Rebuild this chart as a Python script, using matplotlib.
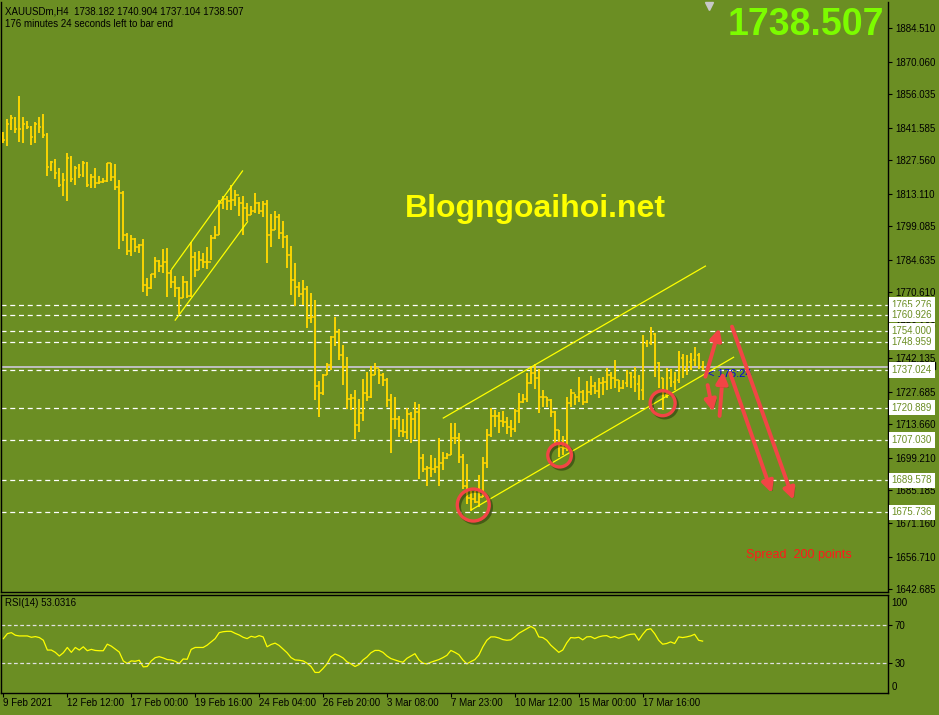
import matplotlib
matplotlib.use("Agg")
import matplotlib.pyplot as plt
import matplotlib.patheffects as pe
from matplotlib.patches import Rectangle
import numpy as np

plt.rcParams["font.family"] = ["Liberation Sans", "DejaVu Sans"]

BG = "#6b8e23"
BAR = "#ffd700"
RED = "#f24545"

# OHLC of XAUUSDm H4
highs = [
    1839.8, 1845.3, 1847.0, 1846.3, 1855.2, 1846.0, 1844.4, 1842.3, 1844.0, 1846.0,
    1847.5, 1839.4, 1827.3, 1827.9, 1824.0, 1821.9, 1830.5, 1829.3, 1825.0, 1825.9,
    1827.2, 1826.8, 1821.6, 1824.0, 1820.7, 1819.7, 1826.5, 1826.5, 1825.9, 1819.0,
    1814.4, 1796.3, 1795.3, 1793.9, 1791.3, 1793.4, 1776.6, 1778.5, 1785.7, 1784.5,
    1789.1, 1789.6, 1780.2, 1777.6, 1773.0, 1777.6, 1775.6, 1792.4, 1788.1, 1788.5,
    1787.4, 1790.0, 1795.3, 1799.2, 1810.4, 1812.1, 1812.1, 1816.8, 1814.7, 1811.5,
    1812.0, 1809.2, 1807.8, 1813.5, 1809.7, 1810.0, 1810.4, 1804.4, 1805.6, 1804.4,
    1801.2, 1795.3, 1790.6, 1783.1, 1775.0, 1775.9, 1773.3, 1770.2, 1767.3, 1732.4,
    1735.4, 1740.0, 1751.8, 1760.1, 1754.6, 1747.9, 1742.9, 1726.8, 1728.5, 1724.5,
    1733.1, 1736.1, 1738.8, 1740.3, 1737.4, 1735.7, 1733.5, 1726.8, 1725.3, 1717.3,
    1715.9, 1720.6, 1719.2, 1723.5, 1722.5, 1700.9, 1695.7, 1700.5, 1699.0, 1707.7,
    1701.9, 1701.5, 1714.1, 1714.1, 1709.8, 1700.9, 1696.6, 1685.1, 1685.1, 1691.9,
    1699.5, 1711.5, 1720.6, 1719.9, 1719.2, 1719.6, 1716.7, 1715.6, 1720.2, 1727.1,
    1726.8, 1735.7, 1738.8, 1739.7, 1737.4, 1728.5, 1725.6, 1724.5, 1719.6, 1711.3,
    1708.7, 1725.3, 1728.8, 1726.8, 1734.0, 1728.5, 1732.5, 1734.5, 1732.1, 1733.5,
    1734.2, 1737.8, 1736.4, 1741.4, 1732.8, 1732.8, 1737.1, 1736.4, 1738.3, 1735.0,
    1752.2, 1750.0, 1755.5, 1753.2, 1740.7, 1733.5, 1737.8, 1737.4, 1736.4, 1745.4,
    1744.0, 1743.6, 1744.3, 1746.9, 1744.6, 1740.9,
]
lows = [
    1834.8, 1833.8, 1840.6, 1839.1, 1835.5, 1834.8, 1840.8, 1833.9, 1835.1, 1839.4,
    1837.3, 1820.7, 1823.0, 1819.3, 1816.1, 1812.1, 1810.1, 1818.3, 1816.8, 1820.0,
    1820.2, 1816.1, 1815.7, 1815.7, 1817.1, 1817.6, 1818.0, 1818.7, 1814.7, 1789.4,
    1792.9, 1786.7, 1786.2, 1788.1, 1787.7, 1770.9, 1769.0, 1771.9, 1776.6, 1779.5,
    1778.8, 1768.4, 1772.3, 1768.7, 1761.2, 1768.0, 1768.0, 1768.4, 1777.3, 1780.2,
    1780.9, 1780.5, 1784.5, 1793.4, 1795.3, 1806.4, 1806.1, 1806.1, 1807.8, 1803.5,
    1795.3, 1801.5, 1803.9, 1804.6, 1804.2, 1802.9, 1783.4, 1790.3, 1797.5, 1793.7,
    1789.8, 1781.2, 1769.4, 1764.7, 1768.7, 1765.1, 1755.1, 1757.5, 1724.2, 1717.0,
    1726.3, 1735.0, 1737.1, 1747.5, 1741.4, 1730.6, 1720.2, 1719.9, 1707.2, 1710.5,
    1715.3, 1723.9, 1724.9, 1735.0, 1731.1, 1730.2, 1721.3, 1701.5, 1711.5, 1708.1,
    1708.4, 1707.2, 1705.8, 1707.2, 1690.0, 1693.3, 1687.1, 1691.1, 1692.9, 1687.1,
    1694.0, 1698.6, 1700.5, 1705.2, 1696.9, 1685.7, 1679.4, 1676.5, 1679.6, 1678.2,
    1682.5, 1694.7, 1708.4, 1712.4, 1709.8, 1712.4, 1709.5, 1708.4, 1710.5, 1714.4,
    1723.0, 1723.5, 1731.1, 1728.8, 1718.7, 1721.3, 1721.0, 1716.7, 1704.8, 1699.5,
    1700.5, 1702.3, 1721.3, 1722.0, 1723.5, 1722.0, 1722.7, 1726.3, 1726.8, 1724.9,
    1726.3, 1728.5, 1728.8, 1729.2, 1727.8, 1729.0, 1729.6, 1729.2, 1727.8, 1724.2,
    1724.2, 1747.0, 1747.9, 1734.2, 1729.2, 1719.9, 1725.0, 1729.6, 1728.5, 1731.4,
    1733.5, 1735.0, 1737.1, 1738.8, 1737.4, 1737.1,
]
closes = [
    1836.2, 1843.1, 1845.6, 1840.8, 1841.1, 1843.1, 1842.0, 1837.4, 1843.1, 1841.7,
    1838.4, 1824.5, 1826.8, 1821.9, 1816.8, 1819.0, 1828.3, 1819.3, 1824.0, 1821.0,
    1826.2, 1816.8, 1820.4, 1817.9, 1818.1, 1818.6, 1826.2, 1820.4, 1816.1, 1813.5,
    1795.2, 1788.4, 1793.4, 1790.0, 1791.0, 1773.7, 1772.3, 1778.4, 1784.2, 1781.9,
    1783.8, 1778.8, 1775.2, 1772.3, 1768.0, 1775.2, 1769.0, 1786.0, 1780.2, 1784.5,
    1783.8, 1783.8, 1793.9, 1795.3, 1809.2, 1810.7, 1810.1, 1810.4, 1812.5, 1808.9,
    1806.8, 1803.9, 1805.8, 1808.9, 1805.8, 1808.7, 1795.3, 1797.5, 1802.9, 1796.3,
    1794.3, 1786.5, 1775.9, 1773.0, 1769.9, 1771.9, 1759.4, 1759.8, 1730.2, 1727.1,
    1735.0, 1739.3, 1751.2, 1753.6, 1743.6, 1738.5, 1724.5, 1724.9, 1713.4, 1718.4,
    1727.1, 1725.3, 1735.0, 1737.8, 1735.0, 1732.8, 1724.2, 1715.9, 1715.9, 1711.0,
    1710.5, 1718.2, 1715.9, 1719.2, 1699.0, 1694.3, 1694.7, 1694.3, 1695.2, 1697.2,
    1699.0, 1700.5, 1707.7, 1707.7, 1699.5, 1687.0, 1681.8, 1681.4, 1680.4, 1682.5,
    1697.2, 1709.1, 1717.3, 1717.3, 1715.3, 1714.8, 1712.4, 1711.5, 1719.6, 1723.5,
    1724.5, 1731.4, 1735.7, 1733.5, 1725.3, 1725.3, 1724.2, 1719.2, 1711.3, 1703.8,
    1703.4, 1723.0, 1727.1, 1725.3, 1727.8, 1723.5, 1727.8, 1730.2, 1728.2, 1731.4,
    1732.1, 1735.0, 1733.5, 1732.8, 1729.2, 1731.4, 1735.7, 1734.2, 1731.1, 1728.5,
    1748.6, 1748.9, 1752.6, 1740.0, 1733.5, 1726.3, 1733.5, 1732.1, 1732.8, 1742.1,
    1737.4, 1740.7, 1741.4, 1743.6, 1740.0, 1738.5,
]
opens = [
    1838.0, 1836.2, 1843.1, 1845.6, 1840.8, 1841.1, 1843.1, 1842.0, 1837.4, 1843.1,
    1841.7, 1838.4, 1824.5, 1826.8, 1821.9, 1816.8, 1819.0, 1828.3, 1819.3, 1824.0,
    1821.0, 1826.2, 1816.8, 1820.4, 1817.9, 1818.1, 1818.6, 1826.2, 1820.4, 1816.1,
    1813.5, 1795.2, 1788.4, 1793.4, 1790.0, 1791.0, 1773.7, 1772.3, 1778.4, 1784.2,
    1781.9, 1783.8, 1778.8, 1775.2, 1772.3, 1768.0, 1775.2, 1769.0, 1786.0, 1780.2,
    1784.5, 1783.8, 1783.8, 1793.9, 1795.3, 1809.2, 1810.7, 1810.1, 1810.4, 1812.5,
    1808.9, 1806.8, 1803.9, 1805.8, 1808.9, 1805.8, 1808.7, 1795.3, 1797.5, 1802.9,
    1796.3, 1794.3, 1786.5, 1775.9, 1773.0, 1769.9, 1771.9, 1759.4, 1759.8, 1730.2,
    1727.1, 1735.0, 1739.3, 1751.2, 1753.6, 1743.6, 1738.5, 1724.5, 1724.9, 1713.4,
    1718.4, 1727.1, 1725.3, 1735.0, 1737.8, 1735.0, 1732.8, 1724.2, 1715.9, 1715.9,
    1711.0, 1710.5, 1718.2, 1715.9, 1719.2, 1699.0, 1694.3, 1694.7, 1694.3, 1695.2,
    1697.2, 1699.0, 1700.5, 1707.7, 1707.7, 1699.5, 1687.0, 1681.8, 1681.4, 1680.4,
    1682.5, 1697.2, 1709.1, 1717.3, 1717.3, 1715.3, 1714.8, 1712.4, 1711.5, 1719.6,
    1723.5, 1724.5, 1731.4, 1735.7, 1733.5, 1725.3, 1725.3, 1724.2, 1719.2, 1711.3,
    1703.8, 1703.4, 1723.0, 1727.1, 1725.3, 1727.8, 1723.5, 1727.8, 1730.2, 1728.2,
    1731.4, 1732.1, 1735.0, 1733.5, 1732.8, 1729.2, 1731.4, 1735.7, 1734.2, 1731.1,
    1728.5, 1748.6, 1748.9, 1752.6, 1740.0, 1733.5, 1726.3, 1733.5, 1732.1, 1732.8,
    1742.1, 1737.4, 1740.7, 1741.4, 1743.6, 1738.2,
]
rsi = [
    55.6, 60.8, 61.8, 59.1, 58.4, 58.4, 58.4, 57.0, 57.7, 56.7,
    53.9, 43.7, 43.7, 41.3, 37.5, 40.9, 46.4, 41.3, 46.4, 43.7,
    47.1, 43.0, 44.4, 43.3, 43.0, 43.0, 49.8, 47.8, 44.7, 41.6,
    32.4, 29.7, 32.4, 32.0, 33.1, 26.2, 26.6, 32.4, 35.8, 36.8,
    35.5, 33.8, 33.4, 32.0, 29.7, 34.4, 34.1, 44.4, 46.4, 46.4,
    46.4, 48.8, 52.2, 55.6, 61.8, 62.8, 63.2, 63.2, 61.1, 59.4,
    57.0, 55.6, 58.0, 57.0, 58.7, 57.4, 47.1, 49.5, 50.9, 48.5,
    44.7, 40.9, 35.8, 33.4, 33.1, 32.4, 30.0, 26.6, 20.4, 20.4,
    24.5, 29.3, 36.8, 39.6, 37.9, 35.5, 31.4, 29.3, 26.6, 28.6,
    33.4, 36.5, 40.9, 43.3, 43.3, 41.3, 37.5, 34.8, 33.4, 32.0,
    31.0, 35.1, 37.5, 39.9, 33.4, 30.0, 29.3, 31.0, 32.4, 33.8,
    35.8, 38.2, 43.3, 41.3, 38.9, 33.4, 29.3, 31.7, 33.8, 38.5,
    47.1, 53.9, 57.4, 57.4, 56.3, 54.6, 53.9, 54.3, 57.4, 61.1,
    63.5, 65.9, 68.3, 65.9, 57.4, 56.7, 53.9, 48.8, 45.0, 41.3,
    43.7, 51.2, 56.7, 56.3, 57.0, 54.3, 57.4, 57.7, 55.6, 57.4,
    58.4, 58.7, 56.7, 57.7, 56.0, 57.4, 59.1, 60.1, 60.4, 53.9,
    60.0, 64.9, 65.9, 60.8, 53.9, 49.8, 50.5, 52.2, 50.5, 57.4,
    56.7, 57.4, 58.4, 60.1, 53.9, 53.0,
]

price_ticks = [1884.510, 1870.060, 1856.035, 1841.585, 1827.560, 1813.110, 1799.085,
               1784.635, 1770.610, 1756.160, 1742.135, 1727.685, 1713.660, 1699.210,
               1685.185, 1671.160, 1656.710, 1642.685]
levels = [1765.276, 1760.926, 1754.000, 1748.959, 1737.024, 1720.889, 1707.030,
          1689.578, 1675.736]
last_price = 1738.507
date_pos = [0, 16, 32, 48, 64, 80, 96, 112, 128, 144, 160]
date_labels = ["9 Feb 2021", "12 Feb 12:00", "17 Feb 00:00", "19 Feb 16:00",
               "24 Feb 04:00", "26 Feb 20:00", "3 Mar 08:00", "7 Mar 23:00",
               "10 Mar 12:00", "15 Mar 00:00", "17 Mar 16:00"]

# trend lines: (bar0, price0, bar1, price1)
trend_lines = [
    (42.1, 1780.5, 59.85, 1822.9),
    (43.0, 1758.6, 61.1, 1801.0),
    (110.1, 1716.4, 175.7, 1781.9),
    (117.1, 1676.8, 182.75, 1742.6),
]
circles = [(117.6, 1678.9, 23), (139.2, 1700.4, 17), (165.0, 1722.8, 18)]
arrows = [  # tail -> head
    (175.7, 1734.2, 179.2, 1755.1),
    (176.25, 1730.6, 177.6, 1719.1),
    (179.25, 1717.3, 180.1, 1736.4),
    (182.35, 1755.8, 197.75, 1681.1),
    (181.9, 1735.7, 192.35, 1684.0),
]

W, H = 939, 715
fig = plt.figure(figsize=(W / 100, H / 100), dpi=100, facecolor=BG)
ax = fig.add_axes([1 / W, (H - 592) / H, 887 / W, 590 / H], facecolor=BG)
ax2 = fig.add_axes([1 / W, (H - 693) / H, 887 / W, 98 / H], facecolor=BG)

x = np.arange(len(closes))
xlim = (-0.6, 221.4)

# price bars
ax.vlines(x, lows, highs, color=BAR, lw=1.35, zorder=3)
ax.hlines(opens, x - 0.45, x, color=BAR, lw=1.1, zorder=3)
ax.hlines(closes, x, x + 0.45, color=BAR, lw=1.1, zorder=3)

for lv in levels:
    ax.axhline(lv, color="white", lw=0.9, ls=(0, (4, 3)), zorder=1)
ax.axhline(last_price, color="#c0c0c0", lw=1.4, zorder=1)

for x0, y0, x1, y1 in trend_lines:
    ax.plot([x0, x1], [y0, y1], color="#ffff00", lw=0.9, zorder=4)

shadow = [pe.SimpleLineShadow(offset=(1.5, -1.5), shadow_color="k", alpha=0.35), pe.Normal()]
for cx, cy, ms in circles:
    ax.plot([cx], [cy], marker="o", ms=ms, mfc="none", mec=RED, mew=2.4, zorder=6,
            path_effects=shadow)

for x0, y0, x1, y1 in arrows:
    ax.annotate("", xy=(x1, y1), xytext=(x0, y0), zorder=7,
                arrowprops=dict(arrowstyle="-|>", color=RED, lw=2.8, mutation_scale=17,
                                shrinkA=0, shrinkB=0,
                                path_effects=[pe.SimplePatchShadow(offset=(1.5, -1.5), alpha=0.35),
                                              pe.Normal()]))

ax.set_xlim(*xlim)
ax.set_ylim(1641.42, 1895.72)
ax.yaxis.tick_right()
ax.set_yticks(price_ticks)
ax.set_yticklabels([f"{p:.3f}" for p in price_ticks])
ax.tick_params(axis="y", direction="out", length=3, width=0.8, pad=2, labelsize=7, colors="black")
ax.set_xticks([])
for s in ["left", "right", "bottom"]:
    ax.spines[s].set_color("black")
    ax.spines[s].set_linewidth(1)
ax.spines["top"].set_visible(False)

# bid marker on the price scale, mostly hidden under the 1737.024 label
tr = ax.get_yaxis_transform()
ax.add_patch(Rectangle((1.001, 1737.6), 0.052, 3.0, transform=tr, color="black",
                       clip_on=False, zorder=8))
for lv in levels:
    ax.text(1.004, lv, f"{lv:.3f}", transform=tr, fontsize=7, color=BG, va="center",
            ha="left", clip_on=False, zorder=9,
            bbox=dict(boxstyle="square,pad=0.28", fc="white", ec="none"))

ax.text(4 / 887, 1 - 9 / 590, "XAUUSDm,H4  1738.182 1740.904 1737.104 1738.507",
        transform=ax.transAxes, fontsize=7, color="black", va="center")
ax.text(4 / 887, 1 - 22 / 590, "176 minutes 24 seconds left to bar end",
        transform=ax.transAxes, fontsize=7, color="black", va="center")
ax.text(883 / 887, 1 - 23 / 590, "1738.507", transform=ax.transAxes, fontsize=27,
        fontweight="bold", color="#7cfc00", ha="right", va="center")
ax.text(534 / 887, 1 - 207 / 590, "Blogngoaihoi.net", transform=ax.transAxes, fontsize=23,
        fontweight="bold", color="#ffff00", ha="center", va="center")
ax.text(745 / 887, 1 - 553 / 590, "Spread  200 points", transform=ax.transAxes, fontsize=9,
        color="#ff1a1a", ha="left", va="center")
ax.text(707 / 887, 1 - 372 / 590, "< 176:24", transform=ax.transAxes, fontsize=8,
        color="#0000e0", ha="left", va="center", zorder=5)
ax.plot([708 / 887], [1 - 4 / 590], marker="v", ms=6, color="#c8c8c8",
        transform=ax.transAxes, clip_on=False)

# RSI panel
ax2.plot(x, rsi, color="#ffff00", lw=0.9)
for lv in (70, 30):
    ax2.axhline(lv, color="#e0e0e0", lw=0.9, ls=(0, (3, 2)))
ax2.set_xlim(*xlim)
ax2.set_ylim(-1, 101)
ax2.yaxis.tick_right()
ax2.set_yticks([70, 30])
ax2.tick_params(axis="y", direction="out", length=3, width=0.8, pad=2, labelsize=7, colors="black")
tr2 = ax2.get_yaxis_transform()
ax2.text(1.004, 93, "100", transform=tr2, fontsize=7, va="center", ha="left", clip_on=False)
ax2.text(1.004, 5, "0", transform=tr2, fontsize=7, va="center", ha="left", clip_on=False)
ax2.text(4 / 887, 1 - 8 / 98, "RSI(14) 53.0316", transform=ax2.transAxes, fontsize=7,
         color="black", va="center")
ax2.set_xticks(date_pos)
ax2.set_xticklabels(date_labels, ha="left")
ax2.tick_params(axis="x", direction="out", length=3, width=0.8, pad=0.5, labelsize=7, colors="black")
for s in ax2.spines.values():
    s.set_color("black")
    s.set_linewidth(1)

fig.savefig("out.png", dpi=100, facecolor=BG)
plt.close(fig)
